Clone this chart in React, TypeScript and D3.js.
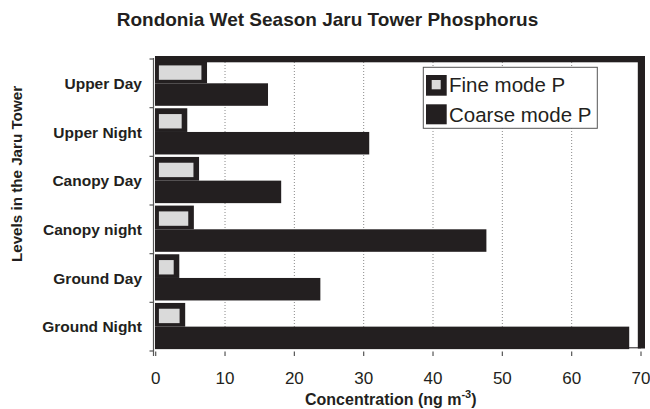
import React from "react";
import * as d3 from "d3";

const categories = ["Upper Day", "Upper Night", "Canopy Day", "Canopy night", "Ground Day", "Ground Night"];
const fineValues = [7.0, 4.15, 5.85, 5.1, 3.0, 3.85];
const coarseValues = [16.2, 30.8, 18.1, 47.7, 23.75, 68.3];
const xTicks = [0, 10, 20, 30, 40, 50, 60, 70];
const legendLabels = ["Fine mode P", "Coarse mode P"];

const W = 650;
const H = 409;
const FONT = "'Liberation Sans', Arial, Helvetica, sans-serif";
const INK = "#231f20";
const GRAY = "#dadada";

export default function App() {
  const x = d3.scaleLinear().domain([0, 70]).range([155.7, 641]);
  const y = d3.scaleBand<string>().domain(categories).range([59, 351]).padding(0);
  const bw = y.bandwidth();
  const yTickPos = categories.map((c) => y(c) as number).concat([351]);

  return (
    <div style={{ position: "fixed", left: 0, top: 0 }}>
      <svg width={W} height={H} style={{ display: "block", background: "#fff" }} fontFamily={FONT}>
        {/* title */}
        <text x={327.5} y={26} textAnchor="middle" fontSize={19} fontWeight="bold" fill={INK}>
          Rondonia Wet Season Jaru Tower Phosphorus
        </text>

        {/* gridlines */}
        {xTicks.filter((t) => t > 0 && t < 70).map((t) => (
          <line key={"g" + t} x1={x(t)} x2={x(t)} y1={62} y2={348} stroke="#8a8a8a" strokeWidth={1} strokeDasharray="1,2" />
        ))}

        {/* bars */}
        {categories.map((c, i) => {
          const b = y(c) as number;
          const x0 = x(0);
          const xf = x(fineValues[i]);
          const xc = x(coarseValues[i]);
          return (
            <g key={c}>
              <rect x={x0 - 0.7} y={b + 0.6} width={xf + 2.8 - x0 + 0.7} height={23.7} fill={INK} />
              <rect x={x0 + 3.2} y={b + 6.4} width={xf - 2.8 - (x0 + 3.2)} height={14.4} fill={GRAY} />
              <rect x={x0 - 0.7} y={b + 24.3} width={xc - x0 + 0.7} height={Math.min(22.5, bw - 24.3 + 2)} fill={INK} />
            </g>
          );
        })}

        {/* plot frame */}
        <line x1={155} x2={641} y1={347.8} y2={347.8} stroke={INK} strokeWidth={1} />
        <rect x={155} y={56} width={490} height={6.3} fill={INK} />
        <rect x={637.8} y={56} width={7.2} height={292.5} fill={INK} />

        {/* left axis */}
        <line x1={153.5} x2={153.5} y1={58} y2={356} stroke="#555" strokeWidth={1.2} />
        {yTickPos.map((p, i) => (
          <line key={"yt" + i} x1={149.5} x2={153.5} y1={p} y2={p} stroke="#555" strokeWidth={1.2} />
        ))}
        {categories.map((c) => (
          <text key={"l" + c} x={142} y={(y(c) as number) + bw / 2 + 5.5} textAnchor="end" fontSize={15.5} fontWeight="bold" fill={INK}>
            {c}
          </text>
        ))}

        {/* bottom axis */}
        {xTicks.map((t) => (
          <g key={"xt" + t}>
            <line x1={x(t)} x2={x(t)} y1={351.5} y2={356} stroke="#555" strokeWidth={1.2} />
            <text x={x(t)} y={384.3} textAnchor="middle" fontSize={17} fill={INK}>
              {t}
            </text>
          </g>
        ))}

        {/* axis titles */}
        <text x={305} y={405} fontSize={16} fontWeight="bold" fill={INK}>
          Concentration (ng m
          <tspan fontSize={11} dy={-7}>-3</tspan>
          <tspan dy={7}>)</tspan>
        </text>
        <text transform={`translate(22,174) rotate(-90)`} textAnchor="middle" fontSize={15.2} fontWeight="bold" fill={INK}>
          Levels in the Jaru Tower
        </text>

        {/* legend */}
        <rect x={423.3} y={67.3} width={174} height={61} fill="#fff" stroke="#555" strokeWidth={1} />
        <rect x={426} y={75} width={20.7} height={20.7} fill={INK} />
        <rect x={431.7} y={80} width={9} height={9.3} fill={GRAY} />
        <rect x={426} y={104.3} width={20.7} height={20} fill={INK} />
        <text x={449} y={91.7} fontSize={20.5} fill={INK}>{legendLabels[0]}</text>
        <text x={449} y={121.7} fontSize={20.5} fill={INK}>{legendLabels[1]}</text>
      </svg>
    </div>
  );
}
